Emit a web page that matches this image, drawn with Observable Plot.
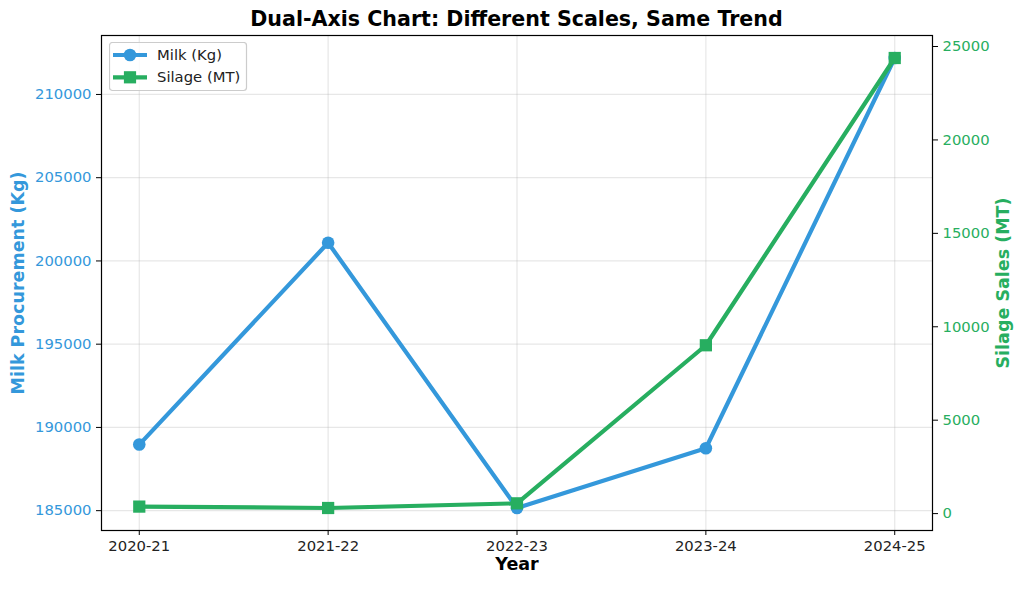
<!DOCTYPE html>
<html>
<head>
<meta charset="utf-8">
<script src="https://cdn.jsdelivr.net/npm/d3@7"></script>
<script src="https://cdn.jsdelivr.net/npm/@observablehq/plot@0.6"></script>
<style>
  html, body { margin: 0; padding: 0; background: white; }
  #wrap { position: relative; width: 1024px; height: 589px; overflow: hidden; font-family: "DejaVu Sans", sans-serif; }
  #title { box-sizing: border-box; height: 33px; padding-top: 5px; padding-left: 9px; line-height: 28px; font-size: 20.6px; font-weight: bold; text-align: center; color: black; white-space: nowrap; }
  #legend { position: absolute; left: 109px; top: 42px; }
  svg { display: block; }
</style>
</head>
<body>
<div id="wrap">
  <div id="title">Dual-Axis Chart: Different Scales, Same Trend</div>
  <div id="chart"></div>
  <div id="legend"></div>
</div>
<script>
// ---- data ----
const years = ["2020-21", "2021-22", "2022-23", "2023-24", "2024-25"];
const milkKg = [188970, 201090, 185160, 188750, 212190];
const silageMT = [375, 300, 550, 9010, 24385];
const milkTicks = [185000, 190000, 195000, 200000, 205000, 210000];
const silageTicks = [0, 5000, 10000, 15000, 20000, 25000];
const seriesNames = ["Milk (Kg)", "Silage (MT)"];
const milkColor = "#3498db";
const silageColor = "#27ae60";

// matplotlib-like 5% margins
function padDomain(v) {
  const lo = Math.min(...v), hi = Math.max(...v), m = (hi - lo) * 0.05;
  return [lo - m, hi + m];
}
const mD = padDomain(milkKg);
const sD = padDomain(silageMT);
const toMilk = s => mD[0] + (s - sD[0]) / (sD[1] - sD[0]) * (mD[1] - mD[0]);
const fromMilk = m => sD[0] + (m - mD[0]) / (mD[1] - mD[0]) * (sD[1] - sD[0]);

const data = years.map((year, i) => ({year, milk: milkKg[i], silage: silageMT[i]}));

const chart = Plot.plot({
  width: 1024,
  height: 556,
  marginTop: 2,
  marginBottom: 59,
  marginLeft: 101,
  marginRight: 92,
  style: {fontFamily: "DejaVu Sans", fontSize: "14.8px", background: "white", color: "black"},
  x: {type: "point", domain: years, padding: 0.2, round: false},
  y: {domain: mD},
  marks: [
    Plot.gridY(milkTicks, {stroke: "#b0b0b0", strokeOpacity: 0.3, strokeWidth: 1.2}),
    Plot.gridX(years, {stroke: "#b0b0b0", strokeOpacity: 0.3, strokeWidth: 1.2}),
    Plot.axisX(years, {tickSize: 5, tickPadding: 5, stroke: "black", fill: "#222", label: null, fontSize: 14.8}),
    Plot.axisY(milkTicks, {anchor: "left", tickSize: 5, tickPadding: 5, tickFormat: d => String(d), stroke: "black", fill: milkColor, label: null, fontSize: 14.8}),
    Plot.axisY(silageTicks.map(toMilk), {anchor: "right", tickSize: 5, tickPadding: 5, tickFormat: d => String(Math.round(fromMilk(d))), stroke: "black", fill: silageColor, label: null, fontSize: 14.8}),
    Plot.frame({stroke: "black", strokeWidth: 1.2}),
    Plot.line(data, {x: "year", y: "milk", stroke: milkColor, strokeWidth: 4.2}),
    Plot.dot(data, {x: "year", y: "milk", r: 6.3, fill: milkColor, symbol: "circle"}),
    Plot.line(data, {x: "year", y: d => toMilk(d.silage), stroke: silageColor, strokeWidth: 4.2}),
    Plot.dot(data, {x: "year", y: d => toMilk(d.silage), r: 6.9, fill: silageColor, symbol: "square"}),
    Plot.text(["Milk Procurement (Kg)"], {text: d => d, frameAnchor: "left", textAnchor: "middle", dx: -83, rotate: -90, fontWeight: "bold", fontSize: 17.5, fill: milkColor}),
    Plot.text(["Silage Sales (MT)"], {text: d => d, frameAnchor: "right", textAnchor: "middle", dx: 71, rotate: -90, fontWeight: "bold", fontSize: 17.5, fill: silageColor}),
    Plot.text(["Year"], {text: d => d, frameAnchor: "bottom", dy: 39, fontWeight: "bold", fontSize: 17.5, fill: "black"})
  ]
});
document.getElementById("chart").appendChild(chart);

// ---- legend ----
const lg = d3.select("#legend").append("svg").attr("width", 140).attr("height", 50);
lg.append("rect").attr("x", 0.5).attr("y", 0.5).attr("width", 137).attr("height", 48).attr("rx", 3)
  .attr("fill", "white").attr("fill-opacity", 0.8).attr("stroke", "#cccccc").attr("stroke-width", 1.2);
const entries = [{name: seriesNames[0], color: milkColor, shape: "circle"}, {name: seriesNames[1], color: silageColor, shape: "square"}];
entries.forEach((e, i) => {
  const cy = 13 + i * 22.3;
  lg.append("line").attr("x1", 4).attr("x2", 38).attr("y1", cy).attr("y2", cy).attr("stroke", e.color).attr("stroke-width", 4.2);
  if (e.shape === "circle") lg.append("circle").attr("cx", 21).attr("cy", cy).attr("r", 6.3).attr("fill", e.color);
  else lg.append("rect").attr("x", 21 - 6.1).attr("y", cy - 6.1).attr("width", 12.2).attr("height", 12.2).attr("fill", e.color);
  lg.append("text").attr("x", 48).attr("y", cy).attr("dy", "0.35em").attr("font-family", "DejaVu Sans").attr("font-size", 14.8).attr("fill", "#222").text(e.name);
});
</script>
</body>
</html>
